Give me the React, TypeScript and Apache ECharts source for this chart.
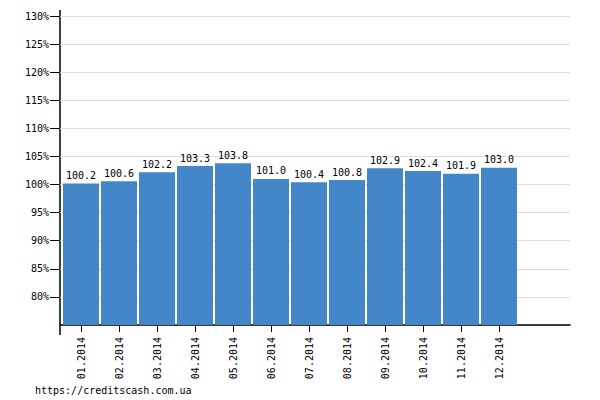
import React, { useEffect, useRef } from "react";
import * as echarts from "echarts";

const months = ["01.2014", "02.2014", "03.2014", "04.2014", "05.2014", "06.2014", "07.2014", "08.2014", "09.2014", "10.2014", "11.2014", "12.2014"];
const values = [100.2, 100.6, 102.2, 103.3, 103.8, 101.0, 100.4, 100.8, 102.9, 102.4, 101.9, 103.0];
const yMin = 75;
const yMax = 130;
const yStep = 5;
const footer = "https://creditscash.com.ua";

const FONT = "'DejaVu Sans Mono', 'Liberation Mono', monospace";

export default function App() {
  const ref = useRef<HTMLDivElement>(null);
  useEffect(() => {
    if (!ref.current) return;
    const chart = echarts.init(ref.current, undefined, { renderer: "svg" });
    chart.setOption({
      animation: false,
      grid: [
        { left: 60, right: 30, top: 16, bottom: 75 },
        { left: 62, right: 82, top: 16, bottom: 75 },
      ],
      xAxis: [
        {
          gridIndex: 0,
          type: "value",
          min: 0,
          max: 1,
          axisLine: { show: true, lineStyle: { color: "#000", width: 1.5 } },
          axisTick: { show: false },
          axisLabel: { show: false },
          splitLine: { show: false },
        },
        {
          gridIndex: 1,
          type: "category",
          data: months,
          axisLine: { show: false },
          axisTick: { show: true, alignWithLabel: true, length: 7, lineStyle: { color: "#000" } },
          axisLabel: { rotate: 90, margin: 12, color: "#000", fontFamily: FONT, fontSize: 10 },
          splitLine: { show: false },
        },
      ],
      yAxis: [
        {
          gridIndex: 0,
          type: "value",
          min: yMin,
          max: yMax,
          interval: yStep,
          axisLine: { show: false },
          axisTick: { show: true, length: 10, lineStyle: { color: "#000" } },
          axisLabel: {
            formatter: "{value}%",
            showMinLabel: false,
            margin: 11,
            color: "#000",
            fontFamily: FONT,
            fontSize: 10,
          },
          splitLine: { show: true, lineStyle: { color: "#dddddd", width: 1 } },
        },
        {
          gridIndex: 1,
          type: "value",
          min: yMin,
          max: yMax,
          interval: yStep,
          show: false,
          splitLine: { show: false },
        },
      ],
      series: [
        {
          type: "bar",
          xAxisIndex: 1,
          yAxisIndex: 1,
          data: values,
          barWidth: 36,
          itemStyle: { color: "#4387c9" },
          label: {
            show: true,
            position: "top",
            distance: 3,
            color: "#000",
            fontFamily: FONT,
            fontSize: 10,
            formatter: (p: any) => Number(p.value).toFixed(1),
          },
        },
      ],
      graphic: [
        { type: "line", shape: { x1: 60, y1: 10, x2: 60, y2: 335 }, style: { stroke: "#000", lineWidth: 1.5 } },
        {
          type: "text",
          left: 35,
          top: 385,
          style: { text: footer, fill: "#000", font: `10px ${FONT}` },
        },
      ],
    });
    return () => chart.dispose();
  }, []);
  return <div ref={ref} style={{ width: 600, height: 400, position: "absolute", left: 0, top: 0 }} />;
}
